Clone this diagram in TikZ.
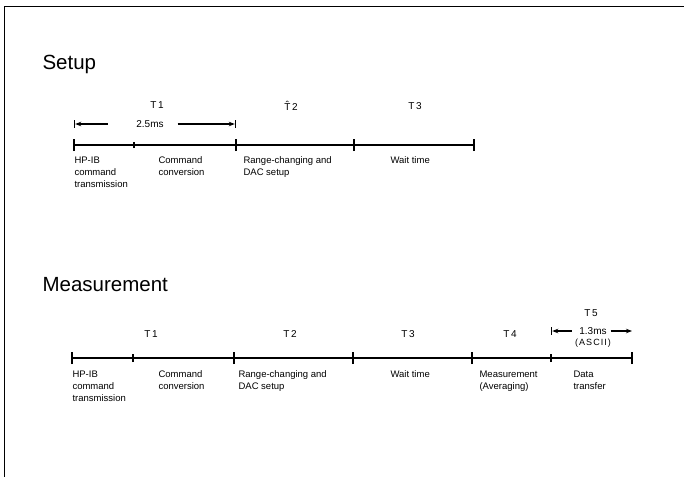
\documentclass[tikz,border=0pt]{standalone}
\usepackage{fontspec}
\setmainfont{Liberation Sans}
\usetikzlibrary{arrows.meta,positioning}

\begin{document}
\begin{tikzpicture}[
    x=1pt, y=-1pt,
    line width=1.1pt,
    >={Stealth[length=6pt,width=4.5pt]},
    font=\fontsize{9.5}{12}\selectfont,
    title/.style={font=\fontsize{20.5}{24}\selectfont, anchor=base west, inner sep=0pt},
    period/.style={font=\fontsize{10}{12}\selectfont},
    phase/.style={align=left, anchor=north west, inner sep=0pt},
    dimline/.style={line width=1.2pt, ->|},
    dimopen/.style={line width=1.2pt, ->}
]
  \useasboundingbox (0,0) rectangle (684,477);
  \draw[line width=1pt] (684,6) -- (4,6) -- (4,477);

  % Setup
  \node[title] (setup) at (42,69) {Setup};
  \foreach \n/\x in {0/74,1/134,2/236,3/354,4/474}
    \coordinate (s\n) at (\x,145);
  \draw (s0) -- (s4);
  \foreach \n in {0,2,3,4}
    \draw ([yshift=-6pt]s\n) -- ([yshift=6pt]s\n);
  \draw ([yshift=-3pt]s1) -- ([yshift=3pt]s1);

  \node[period] (st1) at (157,105) {T\,1};
  \node[period] (st2) at (291,106) {\^{T}\,2};
  \node[period] (st3) at (415,106) {T\,3};

  \node[period] (ms25) at (150,124) {2.5ms};
  \draw[dimline] ([xshift=-25pt]ms25.west) -- (s0 |- ms25);
  \draw[dimline] ([xshift=10pt]ms25.east) -- (s2 |- ms25);

  \node[phase] (sp1) at (74,156) {HP-IB\\command\\transmission};
  \node[phase] (sp2) at (158,156) {Command\\conversion};
  \node[phase] (sp3) at (243,156) {Range-changing and\\DAC setup};
  \node[phase] (sp4) at (390,156) {Wait time};

  % Measurement
  \node[title] (meas) at (42,291) {Measurement};
  \foreach \n/\x in {0/72,1/133,2/234,3/353,4/472,5/551,6/632}
    \coordinate (m\n) at (\x,358);
  \draw (m0) -- (m6);
  \foreach \n in {0,2,3,4,6}
    \draw ([yshift=-6pt]m\n) -- ([yshift=6pt]m\n);
  \foreach \n in {1,5}
    \draw ([yshift=-4pt]m\n) -- ([yshift=4pt]m\n);

  \node[period] (mt1) at (151,334) {T\,1};
  \node[period] (mt2) at (290,334) {T\,2};
  \node[period] (mt3) at (408,334) {T\,3};
  \node[period] (mt4) at (510,334) {T\,4};
  \node[period] (mt5) at (591,313) {T\,5};

  \node[period] (ms13) at (593,331) {1.3ms};
  \node[period, font=\fontsize{9}{11}\addfontfeature{LetterSpace=12}\selectfont] (ascii) at (593,343) {(ASCII)};
  \draw[dimline] ([xshift=-4pt]ms13.west) -- (m5 |- ms13);
  \draw[dimopen] ([xshift=0pt]ms13.east) -- (m6 |- ms13);

  \node[phase] (mp1) at (72,370) {HP-IB\\command\\transmission};
  \node[phase] (mp2) at (158,370) {Command\\conversion};
  \node[phase] (mp3) at (238,370) {Range-changing and\\DAC setup};
  \node[phase] (mp4) at (390,370) {Wait time};
  \node[phase] (mp5) at (479,370) {Measurement\\(Averaging)};
  \node[phase] (mp6) at (573,370) {Data\\transfer};
\end{tikzpicture}
\end{document}
